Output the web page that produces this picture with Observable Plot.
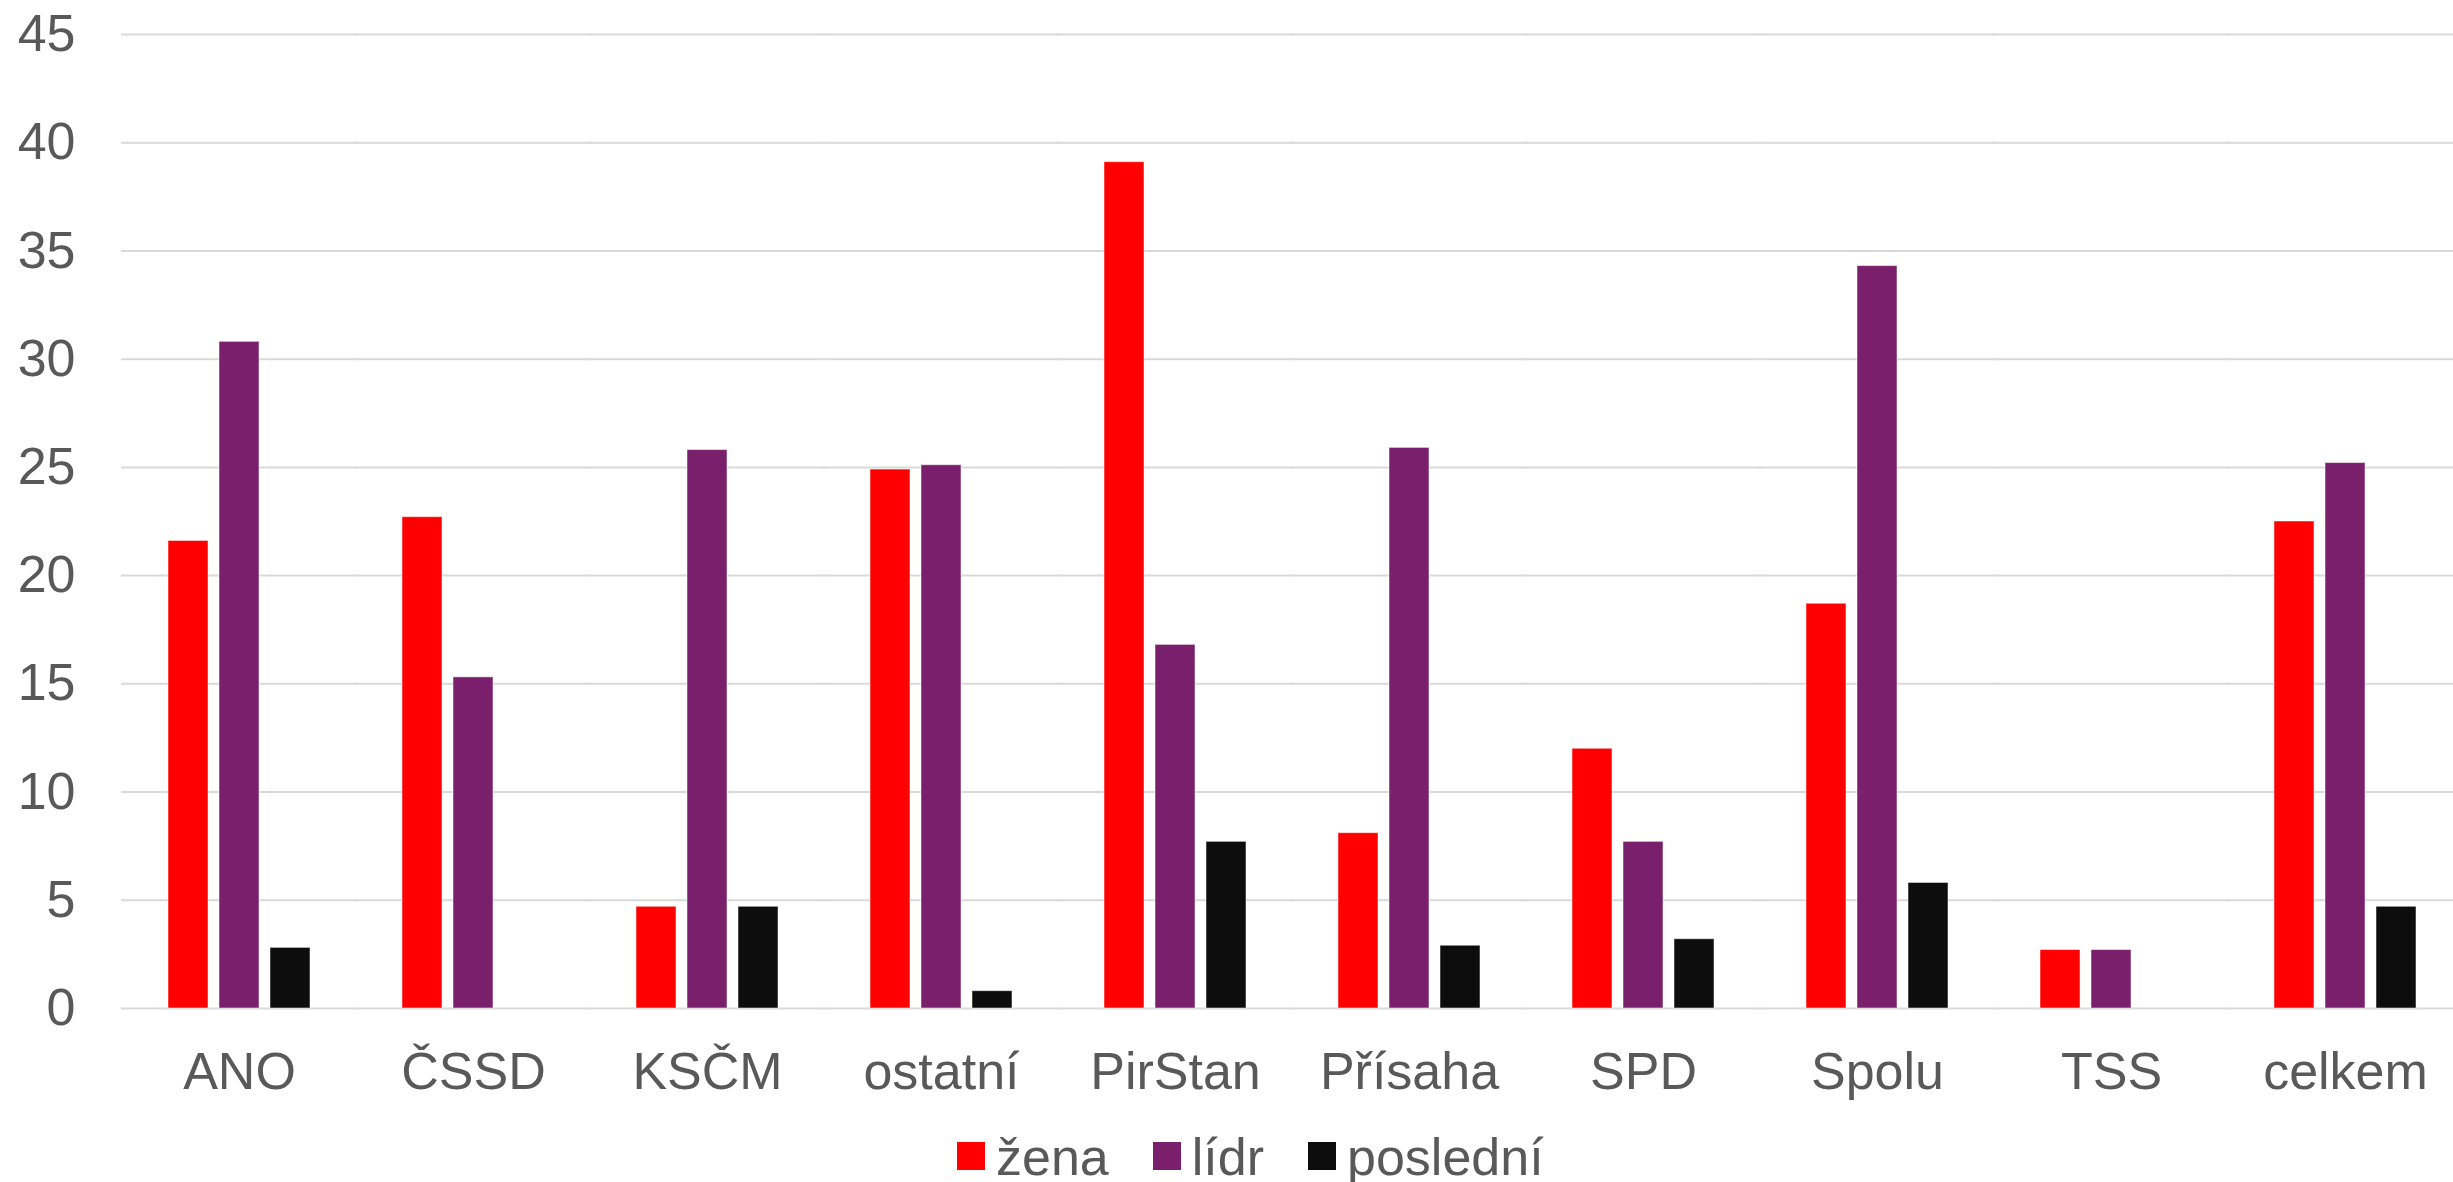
<!DOCTYPE html>
<html>
<head>
<meta charset="utf-8">
<script src="https://cdn.jsdelivr.net/npm/d3@7"></script>
<script src="https://cdn.jsdelivr.net/npm/@observablehq/plot@0.6"></script>
<style>
  html, body { margin: 0; padding: 0; background: #fff; overflow: hidden; }
  #wrap { position: relative; width: 2453px; height: 1182px; font-family: "Liberation Sans", Arial, sans-serif; }
  #legend { position: absolute; left: 957px; top: 1131px; display: flex; align-items: flex-start; font-size: 52px; line-height: 52px; color: #595959; }
  #legend .item { display: flex; align-items: flex-start; margin-right: 44px; }
  #legend .sw { width: 28px; height: 28px; margin-top: 11px; margin-right: 11px; }
</style>
</head>
<body>
<div id="wrap"><div id="chart"></div><div id="legend"></div></div>
<script>
const categories = ["ANO", "ČSSD", "KSČM", "ostatní", "PirStan", "Přísaha", "SPD", "Spolu", "TSS", "celkem"];
const series = ["žena", "lídr", "poslední"];
const zena     = [21.6, 22.7, 4.7, 24.9, 39.1, 8.1, 12.0, 18.7, 2.7, 22.5];
const lidr     = [30.8, 15.3, 25.8, 25.1, 16.8, 25.9, 7.7, 34.3, 2.7, 25.2];
const posledni = [2.8, 0, 4.7, 0.8, 7.7, 2.9, 3.2, 5.8, 0, 4.7];
const colors = ["#FF0000", "#7A1F6B", "#0D0D0D"];
const yTicks = [0, 5, 10, 15, 20, 25, 30, 35, 40, 45];

const seriesValues = [zena, lidr, posledni];
const data = categories.flatMap((c, i) => series.map((s, j) => ({category: c, series: s, value: seriesValues[j][i]})));

const chart = Plot.plot({
  width: 2453,
  height: 1120,
  marginTop: 34,
  marginBottom: 112,
  marginLeft: 120,
  marginRight: 0,
  style: {fontSize: "52px", fontFamily: "'Liberation Sans', Arial, sans-serif", color: "#595959", background: "white"},
  fx: {domain: categories, paddingInner: 0.383, paddingOuter: 0.168, align: 0.567, label: null, axis: "bottom", tickSize: 0, tickPadding: 44},
  x: {domain: series, paddingInner: 0.21, paddingOuter: 0, axis: null},
  y: {domain: [0, 45], ticks: yTicks, label: null, tickSize: 0, tickPadding: 92},
  color: {domain: series, range: colors},
  marks: [
    Plot.ruleY(yTicks, {stroke: "#D9D9D9", strokeWidth: 2, insetLeft: -46, insetRight: -46}),
    Plot.barY(data, {fx: "category", x: "series", y: "value", fill: "series", stroke: "white", strokeWidth: 1, strokeOpacity: 0.5})
  ]
});
document.getElementById("chart").appendChild(chart);

const legend = document.getElementById("legend");
series.forEach((s, i) => {
  const item = document.createElement("div");
  item.className = "item";
  const sw = document.createElement("div");
  sw.className = "sw";
  sw.style.background = colors[i];
  const t = document.createElement("span");
  t.textContent = s;
  item.appendChild(sw);
  item.appendChild(t);
  legend.appendChild(item);
});
</script>
</body>
</html>
